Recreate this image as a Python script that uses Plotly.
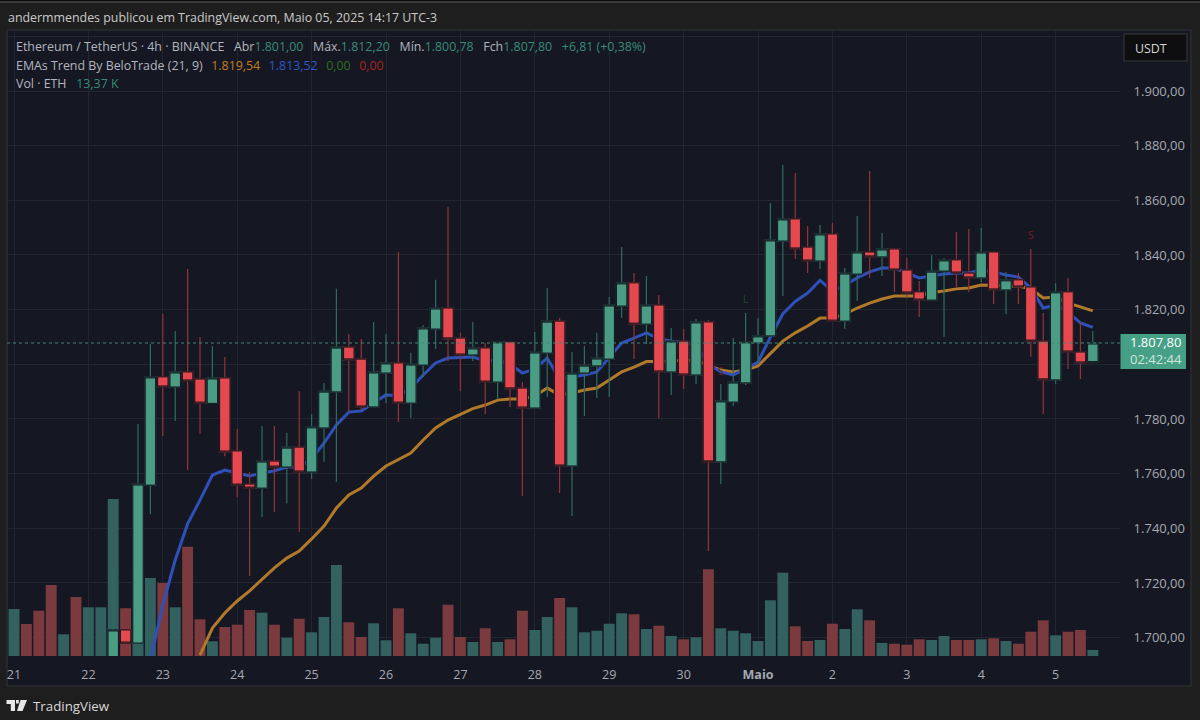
import numpy as np
import pandas as pd
import plotly.graph_objects as go

# 4h bars in UTC-3, first bar is the one just before the "21" tick
times = pd.date_range("2025-04-20 21:00", periods=89, freq="4h")

# volume (K ETH), every bar from the left edge
volume = [145.0, 104.8, 71.4, 101.0, 158.3, 48.4, 131.6, 108.6, 108.6, 350.1, 106.4, 193.3, 173.9, 162.8, 108.6, 243.7,
          81.8, 32.8, 64.7, 69.8, 102.6, 96.6, 69.8, 40.8, 83.2, 52.9, 87.0, 202.9, 75.2, 42.4, 72.9, 35.0,
          106.4, 50.6, 27.4, 40.8, 114.4, 42.4, 31.2, 61.8, 31.2, 37.2, 101.0, 58.0, 87.0, 129.3, 108.6, 52.9,
          56.4, 72.0, 95.2, 93.0, 60.2, 67.6, 44.6, 37.2, 41.7, 193.3, 61.8, 56.4, 50.6, 33.5, 124.2, 185.8,
          66.2, 33.5, 35.7, 72.0, 60.2, 104.1, 79.6, 29.0, 27.4, 25.2, 37.2, 35.7, 44.6, 35.7, 35.7, 37.2,
          39.5, 33.5, 27.4, 54.2, 79.6, 46.2, 54.2, 58.0, 13.37]
volume_side = ["g", "g", "r", "r", "r", "g", "r", "g", "g", "g", "r", "g", "g", "r", "g", "r",
               "r", "g", "r", "r", "r", "g", "r", "g", "r", "g", "g", "g", "r", "r", "g", "g",
               "r", "g", "g", "g", "r", "r", "g", "r", "g", "r", "r", "g", "g", "r", "g", "g",
               "g", "g", "g", "r", "g", "r", "g", "r", "g", "r", "g", "g", "g", "g", "g", "g",
               "r", "r", "g", "r", "g", "g", "r", "g", "r", "r", "r", "g", "g", "r", "r", "g",
               "r", "g", "r", "r", "r", "g", "r", "r", "g"]

# candles that show inside the price range start at bar index 9 of times
candle_times = times[9:]
opens = [1682, 1702.8, 1698.0, 1755.8, 1795.4, 1791.7, 1797.2, 1794.6, 1785.7, 1795.0, 1768.3, 1756.2, 1754.7, 1764.6,
         1762.4, 1769.7, 1760.6, 1776.7, 1789.9, 1806.3, 1801.9, 1784.4, 1796.8, 1800.5, 1785.8, 1799.7, 1812.9, 1820.6,
         1809.6, 1803.4, 1806.0, 1793.5, 1808.2, 1791.3, 1784.0, 1804.1, 1815.8, 1762.8, 1796.8, 1799.4, 1801.9, 1821.3,
         1829.8, 1814.7, 1821.7, 1797.2, 1808.5, 1796.1, 1815.5, 1764.3, 1786.2, 1793.2, 1807.8, 1810.4, 1845.1, 1853.2,
         1842.9, 1837.8, 1847.7, 1815.8, 1833.0, 1841.1, 1839.3, 1842.2, 1834.5, 1826.5, 1823.5, 1834.1, 1838.2, 1833.4,
         1831.6, 1841.1, 1827.2, 1830.9, 1828.3, 1808.5, 1794.3, 1826.5, 1804.5, 1801.0]
highs = [1725.5, 1710.8, 1778.2, 1807.4, 1818.4, 1812.2, 1834.9, 1810.0, 1806.7, 1802.7, 1776.3, 1760.6, 1777.4, 1777.4,
         1774.9, 1790.2, 1781.8, 1793.2, 1827.6, 1811.1, 1809.3, 1815.5, 1811.1, 1841.1, 1804.1, 1814.4, 1830.9, 1857.6,
         1811.5, 1815.5, 1807.8, 1808.2, 1808.2, 1793.5, 1811.8, 1827.9, 1816.9, 1804.5, 1806.7, 1811.5, 1824.6, 1842.9,
         1833.4, 1832.3, 1825.4, 1813.3, 1812.9, 1816.6, 1816.2, 1792.8, 1809.6, 1818.8, 1816.9, 1859.0, 1872.9, 1870.0,
         1850.6, 1851.0, 1851.7, 1835.2, 1854.3, 1870.7, 1848.0, 1842.6, 1838.9, 1830.5, 1840.0, 1838.9, 1848.4, 1849.5,
         1849.9, 1841.5, 1833.8, 1833.4, 1842.2, 1818.8, 1829.7, 1831.6, 1815.5, 1812.2]
lows = [1680, 1690, 1690, 1745.2, 1773.8, 1779.3, 1761.3, 1774.5, 1785.7, 1766.4, 1751.4, 1722.5, 1744.1, 1746.0,
        1749.2, 1738.6, 1758.0, 1764.3, 1756.9, 1782.5, 1783.3, 1784.4, 1785.8, 1778.9, 1780.3, 1795.4, 1805.6, 1801.2,
        1790.2, 1801.2, 1781.8, 1787.3, 1784.4, 1751.8, 1784.0, 1788.0, 1752.9, 1744.5, 1781.1, 1787.7, 1788.0, 1816.9,
        1801.9, 1807.4, 1780.3, 1788.8, 1791.0, 1792.8, 1731.7, 1756.2, 1784.7, 1792.4, 1800.5, 1810.4, 1825.0, 1838.5,
        1833.4, 1834.9, 1815.8, 1812.9, 1823.2, 1831.6, 1832.3, 1826.5, 1824.6, 1817.3, 1823.5, 1810.0, 1828.3, 1826.5,
        1830.1, 1822.1, 1818.4, 1822.1, 1802.7, 1781.8, 1792.8, 1798.3, 1794.6, 1800.78]
closes = [1702.8, 1698.0, 1756.2, 1795.4, 1791.7, 1797.2, 1793.9, 1785.8, 1795.0, 1767.9, 1755.8, 1754.7, 1764.6, 1762.4,
          1769.7, 1760.6, 1777.1, 1790.2, 1806.3, 1801.6, 1784.4, 1797.2, 1800.5, 1785.8, 1800.1, 1813.3, 1820.6, 1809.3,
          1803.4, 1806.0, 1793.5, 1808.2, 1791.0, 1784.0, 1804.5, 1815.8, 1762.8, 1796.8, 1799.7, 1802.3, 1821.7, 1829.8,
          1814.7, 1821.7, 1797.2, 1808.5, 1796.1, 1815.5, 1764.3, 1786.6, 1793.5, 1808.2, 1810.4, 1845.5, 1853.2, 1842.2,
          1837.8, 1847.7, 1815.8, 1833.4, 1841.1, 1839.3, 1842.2, 1834.5, 1826.1, 1823.5, 1834.1, 1838.2, 1833.4, 1831.6,
          1841.1, 1827.2, 1830.9, 1828.3, 1808.5, 1794.3, 1826.5, 1804.5, 1800.5, 1807.8]

# EMAs, they climb into view from below the range
ema9_times = times[12:]
ema9 = [1691.8, 1711.9, 1728.4, 1741.6, 1750.3, 1759.5, 1761.3, 1760.2, 1759.1, 1760.2, 1761.0, 1762.4, 1762.4, 1765.4,
        1771.2, 1777.8, 1782.5, 1782.9, 1785.8, 1788.8, 1788.4, 1791.3, 1796.1, 1800.5, 1802.3, 1802.5, 1802.7, 1801.2,
        1801.6, 1800.1, 1796.8, 1798.3, 1802.3, 1794.6, 1795.4, 1796.1, 1797.2, 1802.3, 1807.8, 1809.6, 1811.5, 1809.3,
        1808.5, 1807.8, 1807.4, 1800.1, 1797.2, 1796.1, 1798.3, 1800.8, 1810.0, 1818.4, 1823.0, 1826.1, 1830.7, 1826.8,
        1829.0, 1831.6, 1833.8, 1835.2, 1835.2, 1833.4, 1831.6, 1832.3, 1833.0, 1833.4, 1833.4, 1834.5, 1833.8, 1832.7,
        1831.9, 1827.9, 1820.6, 1821.7, 1819.1, 1815.1, 1813.52]
ema21_times = times[16:]
ema21 = [1693.6, 1703.5, 1709.0, 1713.4, 1717.1, 1721.4, 1725.5, 1729.1, 1731.7, 1736.1, 1740.8, 1747.4, 1752.2, 1754.7,
         1759.1, 1762.8, 1765.0, 1767.5, 1772.3, 1776.7, 1779.6, 1781.8, 1783.8, 1785.1, 1786.9, 1787.3, 1787.3, 1788.4,
         1791.3, 1788.8, 1789.5, 1790.6, 1791.3, 1794.3, 1797.2, 1799.0, 1801.0, 1801.0, 1801.2, 1801.6, 1801.6, 1799.7,
         1797.9, 1797.2, 1797.9, 1799.4, 1804.1, 1808.5, 1811.5, 1814.0, 1816.9, 1816.9, 1818.4, 1820.6, 1822.4, 1823.9,
         1825.0, 1825.0, 1825.0, 1826.3, 1826.8, 1827.6, 1827.9, 1829.0, 1828.8, 1828.6, 1828.6, 1827.6, 1824.3, 1824.6,
         1822.4, 1821.0, 1819.54]

# signal letters from the indicator
signal_text = ["S", "L", "S"]
signal_times = [times[58], times[60], times[83]]
signal_price = [1797.2, 1823.5, 1847.0]
signal_color = ["#6b1f24", "#1f4a22", "#7a1a1f"]

price_ticks = [1700, 1720, 1740, 1760, 1780, 1800, 1820, 1840, 1860, 1880, 1900, 1920]
# 1.800,00 and 1.920,00 sit behind the price tag and the USDT button
price_labels = ["1.700,00", "1.720,00", "1.740,00", "1.760,00", "1.780,00", "", "1.820,00", "1.840,00",
                "1.860,00", "1.880,00", "1.900,00", ""]
day_ticks = pd.date_range("2025-04-21 01:00", periods=15, freq="D")
day_labels = ["21", "22", "23", "24", "25", "26", "27", "28", "29", "30", "<b>Maio</b>", "2", "3", "4", "5"]

# layout in pixels of the 1200x720 page
W, H = 1200, 720
L, R, T, B = 7, 1120, 30, 656
FONT = "Open Sans"
BG = "#1e1e1e"
PANEL = "#151823"
GRID = "#222631"
BORDER = "#2b2c2f"
UP, DOWN = "#4a9c85", "#e5484f"
UP_WICK, DOWN_WICK = "#2f6b60", "#92333a"


def px(x):
    return (x - L) / (R - L)


def py(y):
    return (B - y) / (B - T)


def rect(x0, y0, x1, y1, fill, line=None, layer="below"):
    return dict(type="rect", xref="paper", yref="paper", x0=px(x0), x1=px(x1), y0=py(y0), y1=py(y1),
                fillcolor=fill, line=dict(color=line or fill, width=1.5 if line else 0), layer=layer)


def path(points, fill):
    d = "M " + " L ".join(f"{px(a):.5f},{py(b):.5f}" for a, b in points) + " Z"
    return dict(type="path", xref="paper", yref="paper", path=d, fillcolor=fill, line=dict(width=0), layer="above")


def label(x, y, text, size=12.4, color="#b2b5be", **kw):
    return dict(xref="paper", yref="paper", x=px(x), y=py(y), text=text, showarrow=False, xanchor=kw.pop("xanchor", "left"),
                yanchor="middle", font=dict(family=FONT, size=size, color=color), **kw)


def span(text, color):
    return f'<span style="color:{color}">{text}</span>'


fig = go.Figure()

# volume sits underneath everything, then EMAs, then the candles on top
fig.add_trace(go.Bar(x=times, y=volume, yaxis="y",
                     marker=dict(color=["#33615f" if s == "g" else "#7b3a3e" for s in volume_side], line_width=0)))
fig.add_trace(go.Scatter(x=ema21_times, y=ema21, yaxis="y2", mode="lines", line=dict(color="#b07a2a", width=3)))
fig.add_trace(go.Scatter(x=ema9_times, y=ema9, yaxis="y2", mode="lines", line=dict(color="#2f50b8", width=3)))
fig.add_trace(go.Scatter(x=signal_times, y=signal_price, yaxis="y2", mode="text", text=signal_text,
                         textfont=dict(family=FONT, size=11, color=signal_color)))
fig.add_trace(go.Candlestick(x=candle_times, open=opens, high=highs, low=lows, close=closes, yaxis="y3",
                             increasing=dict(fillcolor=UP, line=dict(color=UP_WICK, width=1.2)),
                             decreasing=dict(fillcolor=DOWN, line=dict(color=DOWN_WICK, width=1.2)),
                             whiskerwidth=0))
body_top = np.maximum(opens, closes)
body_bottom = np.minimum(opens, closes)
fig.add_trace(go.Candlestick(x=candle_times, open=opens, high=body_top, low=body_bottom, close=closes, yaxis="y3",
                             increasing=dict(fillcolor=UP, line=dict(color="#10131b", width=1)),
                             decreasing=dict(fillcolor=DOWN, line=dict(color="#10131b", width=1)),
                             whiskerwidth=0))
fig.update_traces(hoverinfo="skip", showlegend=False)

price_range = [1693.27, 1922.32]
fig.update_layout(
    width=W, height=H, margin=dict(l=L, r=W - R, t=T, b=H - B, pad=0),
    paper_bgcolor=BG, plot_bgcolor=PANEL, showlegend=False, bargap=0.12,
    boxmode="overlay", boxgap=0.16, boxgroupgap=0, hovermode=False,
    font=dict(family=FONT, size=12, color="#a6a9b1"),
    xaxis=dict(range=["2025-04-20 22:44:24", "2025-05-05 21:46:00"], tickmode="array", tickvals=day_ticks, ticktext=day_labels,
               showgrid=True, gridcolor=GRID, gridwidth=1, zeroline=False, showline=False, ticks="outside", ticklen=7,
               tickcolor=PANEL, tickangle=0, rangeslider_visible=False, tickfont=dict(size=12.5, color="#a6a9b1")),
    yaxis=dict(range=[0, 1396], visible=False, fixedrange=True),
    yaxis2=dict(range=price_range, overlaying="y", side="right", tickmode="array", tickvals=price_ticks, ticktext=price_labels,
                showgrid=True, gridcolor=GRID, gridwidth=1, zeroline=False, showline=False, ticks="outside", ticklen=10,
                tickcolor=PANEL, tickfont=dict(size=13, color="#a6a9b1")),
    yaxis3=dict(range=price_range, overlaying="y", visible=False),
)

# last price dotted line
fig.add_shape(type="line", xref="paper", yref="y2", x0=0, x1=1, y0=closes[-1], y1=closes[-1],
              line=dict(color="#3f8a78", width=1, dash="dot"), layer="above")

shapes = [
    rect(0, 0, W, 1, "#0a0a0a"),
    rect(0, 1, W, 3, "#3a3a3a"),
    rect(7, 30, 1191, 686, PANEL, BORDER),
    rect(1120.5, 334, 1186, 369, "#46a085", layer="above"),
    rect(1124, 34, 1187, 61, "#0e0e10", "#2c2d30", layer="above"),
    # TradingView logo
    path([(6.5, 700), (15, 700), (15, 711), (10.8, 711), (10.8, 704), (6.5, 704)], "#e6e6e6"),
    path([(20.5, 700), (27, 700), (22.5, 711), (17, 711)], "#e6e6e6"),
    path([(16, 700), (18.8, 700), (18.8, 703.5), (16, 703.5)], "#e6e6e6"),
]
for s in shapes:
    fig.add_shape(**s)

ohlc_color = "#3a8a78"
gap = "&nbsp;&nbsp;&nbsp;"
line1 = ("Ethereum / TetherUS · 4h · BINANCE" + gap + "Abr" + span("1.801,00", ohlc_color) + gap + "Máx." + span("1.812,20", ohlc_color)
         + gap + "Mín." + span("1.800,78", ohlc_color) + gap + "Fch" + span("1.807,80", ohlc_color)
         + gap + span("+6,81 (+0,38%)", ohlc_color))
gap2 = "&nbsp;&nbsp;\u2009"
line2 = ("EMAs Trend By BeloTrade (21, 9)" + gap2 + span("1.819,54", "#c27f1f") + gap2 + span("1.813,52", "#2f55c8")
         + gap2 + span("0,00", "#2e6f1f") + gap2 + span("0,00", "#a82222"))
line3 = "Vol · ETH" + gap + span("13,37 K", ohlc_color)

annotations = [
    label(6, 17, "andermmendes publicou em TradingView.com, Maio 05, 2025 14:17 UTC-3", color="#c9c9c9"),
    label(14, 47, line1),
    label(14, 65, line2),
    label(14, 83, line3),
    label(1133, 48, "USDT", color="#d6d6d6"),
    label(1156, 351, '<span style="color:#ffffff">1.807,80</span><br>02:42:44', size=13, color="#cfe6df", xanchor="center", align="center"),
    label(31, 706, "TradingView", size=13.3, color="#d8d8d8"),
]
for a in annotations:
    fig.add_annotation(**a)

# browser default body margin would shift the whole page by 8px
fig.write_html("out.html", config=dict(displayModeBar=False), post_script="document.body.style.margin='0';")
